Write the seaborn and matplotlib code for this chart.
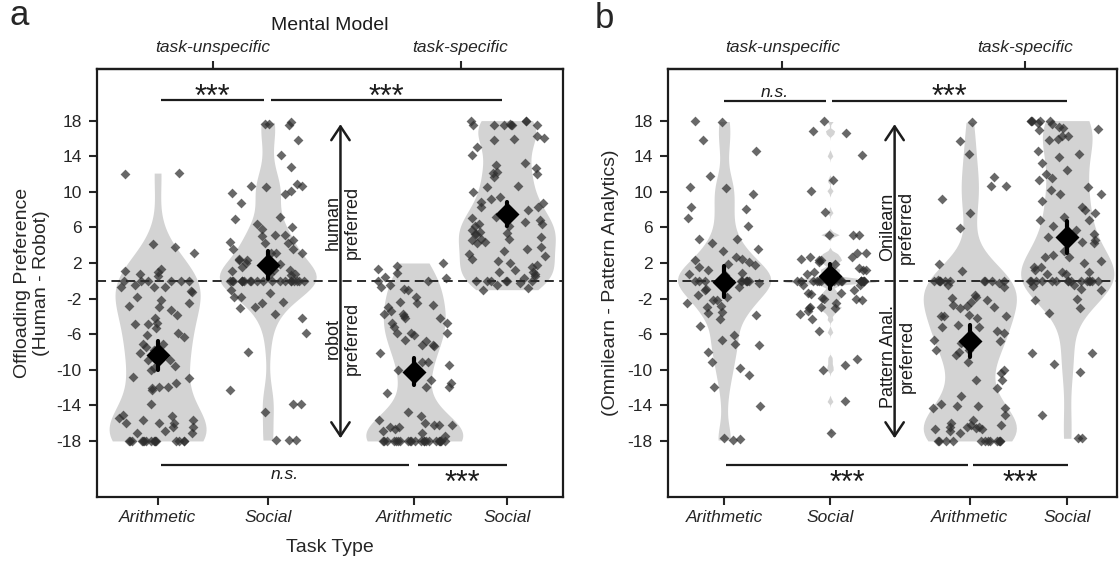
import numpy as np
import matplotlib
matplotlib.use("Agg")
import matplotlib.pyplot as plt
import seaborn as sns

# ---- values (one list per violin) ----
# panel a: Offloading Preference (Human - Robot)
a_arith_unspec = [12, 12.1, 4.1, 3.8, 3.1, 1.3, 1.0, 1.1, 0.8, 0.5,
                  0, 0, 0, 0, 0, 0,
                  -0.5, -0.7, -1.1, -0.7, -0.7, -1.3, -1.8, -2.2, -2.5, -2.8,
                  -2.9, -3.8, -3.3, -4.2, -4.9, -4.8, -4.9, -5.3, -6.1, -6.3,
                  -5.9, -7.1, -7.1, -8.1, -7.8, -7.4, -8.9, -8.9, -9.8, -9.6,
                  -10.0, -10.9, -10.8, -11.5, -12.3, -12.1, -11.9, -11.9, -13.8, -15.4,
                  -16.0, -16.0, -16.0, -16.4, -15.6, -15.2, -15.1, -15.7, -16.9, -17.1,
                  -16.4, -17.1] + [-18] * 16
a_social_unspec = [17.8, 17.6, 17.6, 17.5, 15.8, 14.1, 12.8, 10.7, 9.9, 10.9,
                   10.7, 10.5, 10.1, 9.7, 8.7, 7.2, 6.9, 6.4, 6.0, 5.8,
                   5.1, 5.2, 4.6, 4.3, 4.4, 5.0, 4.2, 3.6, 3.1, 3.1,
                   3.6, 3.1, 2.5, 2.3, 1.9, 2.3, 2.0, 1.2, 1.6, 1.2,
                   0.8, 1.1, 0.8, 0.6] + [0] * 20 + \
                  [-1.8, -1.8, -1.0, -1.4, -2.4, -2.5, -3.1, -2.9, -3.7, -4.2,
                   -5.9, -8.0, -12.3, -13.9, -13.9, -14.7, -17.9, -17.9, -17.9]
a_arith_spec = [2.0, 1.3, 1.7, 0.9, 0.4, 0.3, 0, 0,
                -0.7, -0.9, -1.0, -0.5, -1.8, -2.5, -2.4, -2.7, -2.9, -3.4,
                -3.7, -4.2, -4.8, -4.8, -4.2, -3.7, -4.0, -5.2, -5.9, -5.9,
                -6.1, -5.9, -6.7, -6.8, -7.2, -7.3, -8.1, -7.2, -9.5, -9.1,
                -10.0, -9.1, -11.1, -11.9, -12.6, -11.5, -11.9, -14.7, -15.2, -15.6,
                -16.2, -16.2, -16.0, -16.2, -16.4, -16.4, -16.7, -17.1, -16.9,
                -17.5] + [-18] * 22
a_social_spec = [18, 17.6, 17.5, 17.5, 17.5, 17.5, 17.5, 18, 18, 17.5,
                 16.3, 15.9, 15.8, 16.0, 15.0, 14.1, 13.2, 12.2, 13.0, 12.7,
                 12.1, 12.0, 10.7, 11.7, 10.0, 10.5, 8.7, 9.4, 8.3, 9.2,
                 8.3, 8.9, 7.9, 6.4, 6.4, 6.1, 7.0, 6.8, 7.2, 6.6,
                 4.7, 6.2, 5.3, 5.5, 4.7, 4.6, 5.7, 4.9, 5.3, 5.4,
                 4.2, 4.4, 3.6, 3.8, 3.4, 3.0, 2.8, 2.5, 2.2, 2.0,
                 1.8, 1.5, 1.2, 1.0, 1.0, 0.8, 0.5, 0.3,
                 0, 0, 0, 0, 0, 0, -0.3, -0.5, -0.8, -1.0]

# panel b: Omnilearn - Pattern Analytics
b_arith_unspec = [17.8, 17.9, 15.8, 14.6, 11.8, 9.8, 10.4, 10.5, 8.1, 8.3,
                  6.2, 7.0, 4.7, 4.7, 4.2, 3.6, 3.3, 2.7, 2.4, 2.3,
                  2.1, 1.8, 1.6, 1.9, 1.2, 0.9, 0.8, 0.6] + [0] * 10 + \
                 [-0.7, -0.3, -0.9, -1.0, -1.6, -1.8, -2.2, -2.2, -2.8, -2.9,
                  -2.5, -3.5, -3.6, -4.3, -3.8, -5.1, -6.1, -7.1, -8.0, -6.7,
                  -7.2, -9.1, -9.8, -10.6, -11.9, -14.1, -17.9, -17.7, -17.8]
b_social_unspec = [17.9, 16.6, 16.8, 14.1, 11.3, 10.1, 7.7, 5.2, 5.2, 5.2,
                   2.1, 2.3, 3.1, 2.5, 1.4, 3.1, 2.7, 2.3, 1.9, 2.7,
                   1.2, 1.2, 1.0, 0.8, 0.6] + [0] * 18 + \
                  [-0.5, -1.0, -0.5, -1.5, -3.0,
                   -3.1, -3.1, -2.9, -2.5, -2.2, -2.0, -3.7, -1.4, -2.0, -1.4,
                   -1.9, -4.3, -5.7, -3.4, -8.8, -9.5, -10.0, -13.5, -17.1]
b_arith_spec = [17.8, 15.7, 14.2, 10.7, 10.7, 11.7, 9.2, 7.6, 5.9, 1.9,
                1.1, 0.1] + [0] * 10 + \
               [-0.3, -0.5, -1.9, -0.7, -1.6, -3.1, -2.8, -2.7, -1.8, -2.2,
                -2.4, -2.9, -4.0, -4.2, -4.0, -4.0, -3.8, -5.2, -5.0, -5.9,
                -6.7, -7.2, -6.8, -6.7, -5.7, -5.2, -7.0, -7.8, -9.1, -7.8,
                -8.3, -8.0, -10.0, -10.4, -11.1, -11.1, -12.1, -13.0, -13.8, -14.1,
                -14.1, -14.3, -14.3, -15.1, -15.6, -16.4, -16.7, -16.2, -16.4, -16.6,
                -16.4, -16.0, -16.2, -16.9, -16.7, -17.1] + [-18] * 12
b_social_spec = [17.9, 17.9, 17.7, 17.6, 17.3, 17.1, 17.2, 17.0, 17.9, 18, 18,
                 16.3, 16.3, 15.8, 15.9, 14.6, 14.2, 13.9, 13.2, 12.4, 12.0,
                 11.5, 11.3, 10.5, 10.2, 9.8, 9.8, 9.0, 8.3, 7.9, 7.6,
                 6.8, 6.8, 5.3, 6.2, 7.2, 5.7, 4.9, 4.6, 4.4, 4.2,
                 3.3, 2.7, 2.7, 2.9, 2.0, 2.2, 1.6, 1.6, 1.2, 1.0,
                 1.0, 0.8, 0.8] + [0] * 15 + \
                [-0.6, -0.9, -0.5, -1.0, -2.0, -2.2, -3.1, -3.6, -8.1, -8.1,
                 -9.3, -10.2, -15.1, -17.7, -17.7]

task_labels = ["Arithmetic", "Social", "Arithmetic", "Social"]
model_labels = ["task-unspecific", "task-specific"]
y_ticks = [18, 14, 10, 6, 2, -2, -6, -10, -14, -18]

sns.set_style("ticks")
plt.rcParams["font.family"] = ["Liberation Sans", "DejaVu Sans"]
plt.rcParams["axes.unicode_minus"] = False

VIOLIN = "#d3d3d3"
DOT = "#2e2e2e"
INK = "#1c1c1c"

np.random.seed(7)


def draw_group(ax, pos, vals, bw):
    x = [pos] * len(vals)
    sns.violinplot(x=x, y=vals, native_scale=True, width=0.88, inner=None,
                   cut=0, density_norm="width", bw_adjust=bw, color=VIOLIN,
                   linecolor=VIOLIN, saturation=1, linewidth=0, ax=ax)
    sns.stripplot(x=x, y=vals, native_scale=True, jitter=0.35, marker="D",
                  size=5, color=DOT, alpha=0.72, linewidth=0, zorder=3, ax=ax)
    sns.pointplot(x=x, y=vals, native_scale=True, errorbar=("se", 1.9),
                  color="black", marker="D", markersize=10, linestyle="none",
                  err_kws={"linewidth": 3}, zorder=5, ax=ax)


def sig(ax, x0, x1, y, label, ty):
    ax.plot([x0, x1], [y, y], color=INK, lw=1.6, solid_capstyle="butt", zorder=4)
    if label == "***":
        ax.text((x0 + x1) / 2, ty, label, ha="center", va="baseline",
                fontsize=22, color=INK)
    else:
        ax.text((x0 + x1) / 2, ty, label, ha="center", va="baseline",
                fontsize=12.5, style="italic", color=INK)


def panel(ax, groups, positions, xlim, top_pos, bws):
    for pos, vals, bw in zip(positions, groups, bws):
        draw_group(ax, pos, vals, bw)
    ax.axhline(0, ls=(0, (5, 3)), color=INK, lw=1.3, zorder=2)
    ax.set_xlim(xlim)
    ax.set_ylim(-24.3, 23.8)
    ax.set_yticks(y_ticks)
    ax.set_xticks(positions)
    ax.set_xticklabels(task_labels, style="italic", fontsize=12.5)
    ax.tick_params(axis="y", labelsize=12.5, length=6, width=1.5, pad=5)
    ax.tick_params(axis="x", length=6, width=1.5, pad=3)
    for sp in ax.spines.values():
        sp.set_visible(True)
        sp.set_linewidth(1.6)
        sp.set_color(INK)
    top = ax.secondary_xaxis("top")
    top.set_xticks(top_pos)
    top.set_xticklabels(model_labels, style="italic", fontsize=12.5)
    top.tick_params(length=6, width=1.5, pad=4)
    top.spines["top"].set_linewidth(1.6)
    ax.set_xlabel("")


fig = plt.figure(figsize=(11.2, 5.62), dpi=100)
ax_a = fig.add_axes([97 / 1120, 65 / 562, 466 / 1120, 428 / 562])
ax_b = fig.add_axes([668 / 1120, 65 / 562, 449 / 1120, 428 / 562])

pos_a = [0, 1, 2.33, 3.17]
pos_b = [0, 1, 2.32, 3.24]

panel(ax_a, [a_arith_unspec, a_social_unspec, a_arith_spec, a_social_spec],
      pos_a, (-0.55, 3.68), [0.5, 2.75], [0.9, 0.6, 0.8, 0.8])
panel(ax_b, [b_arith_unspec, b_social_unspec, b_arith_spec, b_social_spec],
      pos_b, (-0.53, 3.71), [0.55, 2.84], [0.5, 0.08, 0.7, 0.8])

# significance bars
sig(ax_a, 0.03, 0.97, 20.3, "***", 19.65)
sig(ax_a, 1.03, 3.13, 20.3, "***", 19.65)
sig(ax_a, 0.03, 2.28, -20.7, "n.s.", -22.3)
sig(ax_a, 2.36, 3.17, -20.7, "***", -23.7)
sig(ax_b, 0.0, 0.96, 20.2, "n.s.", 20.6)
sig(ax_b, 1.02, 3.24, 20.2, "***", 19.6)
sig(ax_b, 0.02, 2.30, -20.7, "***", -23.7)
sig(ax_b, 2.35, 3.25, -20.7, "***", -23.7)

# direction arrows
arrow = dict(arrowstyle="<->,head_length=0.45,head_width=0.3", lw=1.8,
             color=INK, mutation_scale=22, shrinkA=0, shrinkB=0)
ax_a.annotate("", xy=(1.66, 17.6), xytext=(1.66, -17.7), arrowprops=arrow)
ax_b.annotate("", xy=(1.61, 17.6), xytext=(1.61, -17.7), arrowprops=arrow)
ax_a.text(1.68, 6.6, "human\npreferred", rotation=90, ha="center", va="center",
          fontsize=13, linespacing=1.1, color=INK)
ax_a.text(1.68, -6.5, "robot\npreferred", rotation=90, ha="center", va="center",
          fontsize=13, linespacing=1.1, color=INK)
ax_b.text(1.635, 6.05, "Onilearn\npreferred", rotation=90, ha="center",
          va="center", fontsize=13, linespacing=1.1, color=INK)
ax_b.text(1.64, -8.5, "Pattern Anal.\npreferred", rotation=90, ha="center",
          va="center", fontsize=13, linespacing=1.1, color=INK)

# axis labels
ax_a.set_ylabel("Offloading Preference\n(Human - Robot)", fontsize=14)
ax_a.yaxis.set_label_coords(-0.1, 0.5)
ax_b.set_ylabel("(Omnilearn - Pattern Analytics)", fontsize=14)
ax_b.yaxis.set_label_coords(-0.109, 0.5)
ax_a.set_xlabel("Task Type", fontsize=14)
ax_a.xaxis.set_label_coords(0.5, -0.097)

fig.text(330 / 1120, 1 - 25 / 562, "Mental Model", ha="center", va="center",
         fontsize=14, color=INK)
fig.text(19 / 1120, 1 - 25 / 562, "a", ha="center", va="baseline", fontsize=25)
fig.text(604 / 1120, 1 - 28 / 562, "b", ha="center", va="baseline", fontsize=25)

fig.savefig("out.png", dpi=100)
